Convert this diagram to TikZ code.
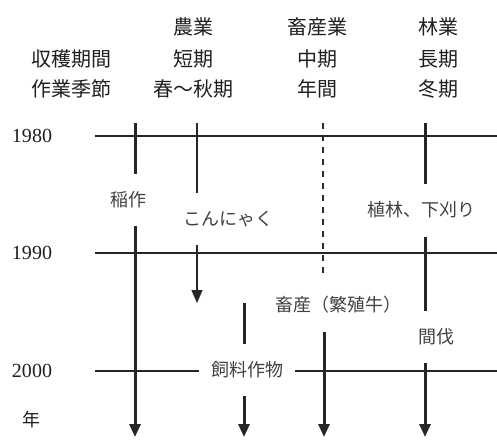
\documentclass[tikz,border=0pt]{standalone}
\usepackage{fontspec}
\usetikzlibrary{arrows.meta}
\newfontfamily\jp{Noto Sans CJK JP}
\newfontfamily\yrfont{Liberation Serif}
\tikzset{
 hd/.style={font=\jp\fontsize{20}{20}\selectfont, text=black!88, inner sep=0pt},
 yr/.style={font=\yrfont\fontsize{20}{20}\selectfont, text=black!88, inner sep=0pt},
 lbl/.style={font=\jp\fontsize{18}{18}\selectfont, text=black!75, inner xsep=12pt, inner ysep=18pt},
 thk/.style={line width=3pt, draw=black!85},
 thn/.style={line width=1.4pt, draw=black!85},
 hln/.style={line width=1.8pt, draw=black!85},
 arr/.style={-{Triangle[width=11pt,length=13pt]}}
}
\begin{document}
\begin{tikzpicture}[x=1pt,y=-1pt]
\useasboundingbox (0,0) rectangle (497,439);
% headings
\node[hd] (h0b) at (71,59) {収穫期間};
\node[hd] (h0c) at (71,89) {作業季節};
\foreach \x/\a/\b/\c [count=\i] in {193/農業/短期/春〜秋期, 317/畜産業/中期/年間, 438/林業/長期/冬期} {
 \node[hd] (h\i a) at (\x,27) {\a};
 \node[hd] (h\i b) at (\x,59) {\b};
 \node[hd] (h\i c) at (\x,89) {\c};
 }
% years
\foreach \y/\t [count=\i from 0] in {136/1980,253/1990,371/2000} {
 \node[yr] (y\i) at (32,\y) {\t};
 \coordinate (l\i) at (95,\y);
 \coordinate (r\i) at (497,\y);
 }
\node[hd, font=\jp\fontsize{18}{18}\selectfont] (nen) at (31,420) {年};
% labels
\node[lbl] (ine) at (128,200) {稲作};
\node[lbl] (kon) at (228,219) {こんにゃく};
\node[lbl] (feed) at (247,370) {飼料作物};
\node[lbl] (cow) at (338,305) {畜産（繁殖牛）};
\node[lbl] (ring) at (421,210) {植林、下刈り};
\node[lbl] (kan) at (436,337) {間伐};
% columns
\foreach \n/\x in {1/135,2/197,3/244,4/324,5/323,6/425} {
 \coordinate (t\n) at (\x,123);
 \coordinate (b\n) at (\x,437);
 }
\coordinate (k) at (197,303);
\coordinate (fd) at (244,303);
\coordinate (dz) at (323,278);
% year lines
\draw[hln] (l0) -- (r0);
\draw[hln] (l1) -- (r1);
\draw[hln] (l2) -- (feed.west |- l2) (feed.east |- l2) -- (r2);
% rice
\draw[thk] (t1) -- (t1 |- ine.north);
\draw[thk,arr] (t1 |- ine.south) -- (b1);
% konnyaku
\draw[thn] (t2) -- (t2 |- kon.north);
\draw[thn,arr] (t2 |- kon.south) -- (k);
% feed crops
\draw[thk] (fd) -- (fd |- feed.north);
\draw[thk,arr] (fd |- feed.south) -- (b3);
% cattle
\draw[hln,dash pattern=on 6pt off 6pt] (t5) -- (dz);
\draw[thk,arr] (b4 |- cow.south) -- (b4);
% forestry
\draw[thk] (t6) -- (t6 |- ring.north);
\draw[thk] (t6 |- ring.south) -- (t6 |- kan.north);
\draw[thk,arr] (t6 |- kan.south) -- (b6);
\end{tikzpicture}
\end{document}
